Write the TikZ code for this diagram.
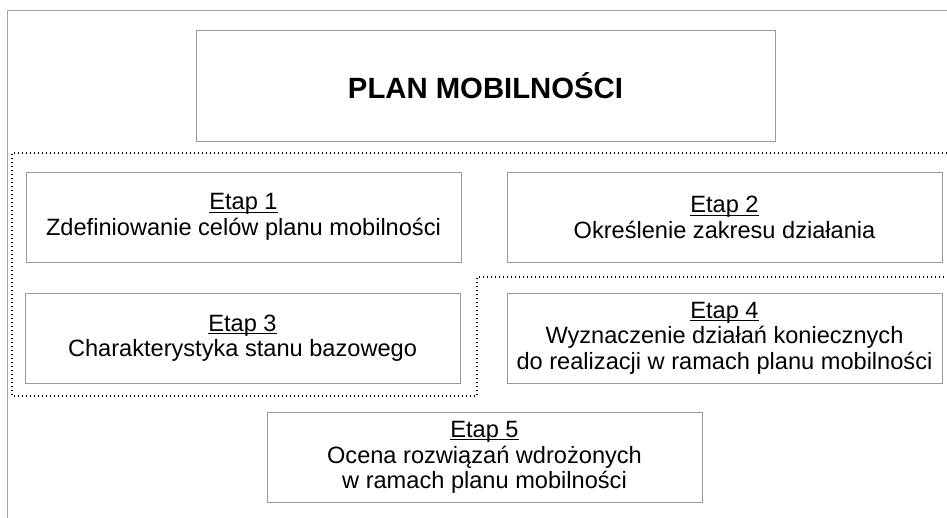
\documentclass[tikz,border=0pt]{standalone}
\usepackage{fontspec}
\setmainfont{Liberation Sans}
\newcommand{\etaplabel}[1]{{\setbox0\hbox{#1}\rlap{\rule[-2.6pt]{\wd0}{0.9pt}}\box0}}
\begin{document}
\begin{tikzpicture}[
    x=1pt, y=-1pt,
    box/.style={rectangle, draw=gray!80, line width=0.8pt, align=center, inner sep=0pt},
    title/.style={box, minimum width=579pt, minimum height=111pt, font=\fontsize{29.3}{33}\selectfont\bfseries},
    stage/.style={box, minimum width=435pt, minimum height=90pt, font=\fontsize{23.6}{25.5}\selectfont},
    frame/.style={draw=gray!70, line width=0.8pt},
    dots/.style={draw=black, line width=1.3pt, dash pattern=on 1.3pt off 2.7pt}
]
\useasboundingbox (0,0) rectangle (947,518);

% Frame
\draw[frame] (7.5,518) -- (7.5,10) -- (947,10);

% Title
\node[title] (plan) at (485.5,85.5) {PLAN MOBILNOŚCI};

% Stages
\node[stage] (etap1) at (243.5,217) {\etaplabel{Etap 1}\\Zdefiniowanie celów planu mobilności};
\node[stage] (etap2) at (724.5,217.5) {\etaplabel{Etap 2}\\Określenie zakresu działania};
\node[stage] (etap3) at (242.5,338) {\etaplabel{Etap 3}\\Charakterystyka stanu bazowego};
\node[stage] (etap4) at (724.5,338) {\etaplabel{Etap 4}\\Wyznaczenie działań koniecznych\\do realizacji w ramach planu mobilności};
\node[stage] (etap5) at (484.5,457.5) {\etaplabel{Etap 5}\\Ocena rozwiązań wdrożonych\\w ramach planu mobilności};

% Dotted outline
\draw[dots] (947,153) -- (12,153) -- (12,396) -- (477,396) -- (477,277) -- (947,277);

\end{tikzpicture}
\end{document}
